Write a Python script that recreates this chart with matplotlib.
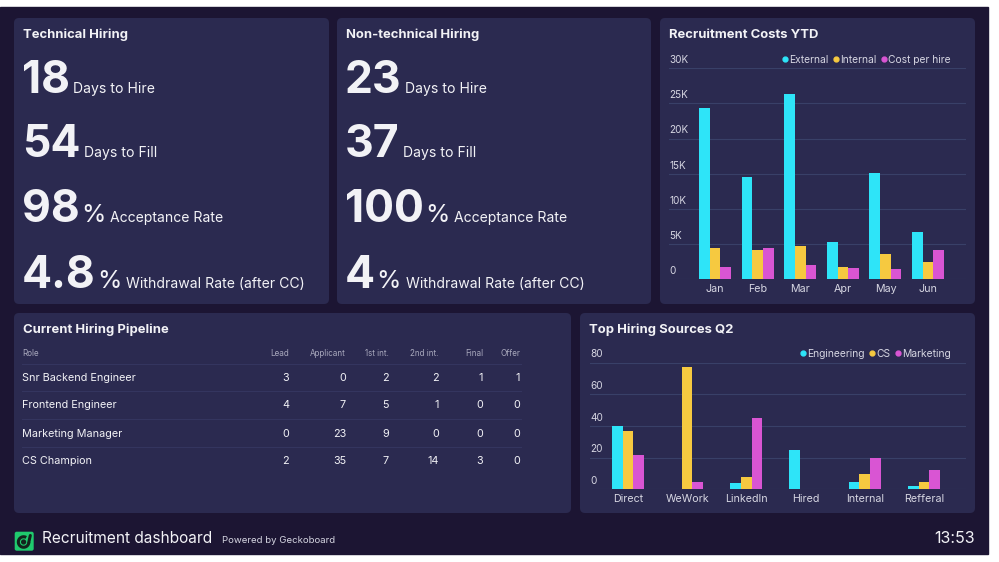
import numpy as np
import matplotlib
matplotlib.use("Agg")
import matplotlib.pyplot as plt
from matplotlib.patches import FancyBboxPatch, Rectangle, Arc, Circle
from matplotlib.lines import Line2D

plt.rcParams['font.family'] = ['Inter', 'DejaVu Sans']

# ---- data ----
stat_labels = ['Days to Hire', 'Days to Fill', 'Acceptance Rate', 'Withdrawal Rate (after CC)']
stat_units = ['', '', '%', '%']
tech_values = ['18', '54', '98', '4.8']
nontech_values = ['23', '37', '100', '4']

months = ['Jan', 'Feb', 'Mar', 'Apr', 'May', 'Jun']
cost_external = [24400, 14500, 26300, 5300, 15100, 6700]
cost_internal = [4400, 4100, 4800, 1700, 3550, 2450]
cost_per_hire = [1800, 4400, 2000, 1600, 1450, 4100]
cost_ticks = [0, 5000, 10000, 15000, 20000, 25000, 30000]
cost_tick_labels = ['0', '5K', '10K', '15K', '20K', '25K', '30K']

sources = ['Direct', 'WeWork', 'LinkedIn', 'Hired', 'Internal', 'Refferal']
src_engineering = [40, 0, 3.8, 24.8, 4.8, 1.9]
src_cs = [36.8, 77, 7.6, 0, 9.7, 4.8]
src_marketing = [21.7, 4.8, 45, 0, 19.8, 12.2]
src_ticks = [0, 20, 40, 60, 80]

table_header = ['Role', 'Lead', 'Applicant', '1st int.', '2nd int.', 'Final', 'Offer']
table_roles = ['Snr Backend Engineer', 'Frontend Engineer', 'Marketing Manager', 'CS Champion']
table_values = [[3, 0, 2, 2, 1, 1],
                [4, 7, 5, 1, 0, 0],
                [0, 23, 9, 0, 0, 0],
                [2, 35, 7, 14, 3, 0]]

# ---- style ----
BG = '#1c1533'
PANEL = '#2b2a50'
GRID = '#394068'
WHITE = '#f2f2f6'
LIGHT = '#d6d6e2'
DIM = '#a9a9bd'
CYAN = '#2ee4f8'
YELLOW = '#f6c940'
MAGENTA = '#d955d3'

W, H = 999, 562
fig = plt.figure(figsize=(W / 100, H / 100), dpi=100, facecolor='white')
bg = fig.add_axes([0, 0, 1, 1])
bg.set_xlim(0, W)
bg.set_ylim(H, 0)
bg.axis('off')
bg.add_patch(Rectangle((0, 7), 988, 547, color=BG, zorder=0))

def panel(x0, y0, x1, y1, title):
    bg.add_patch(FancyBboxPatch((x0, y0), x1 - x0, y1 - y0,
                                boxstyle='round,pad=0,rounding_size=5',
                                fc=PANEL, ec='none', zorder=1))
    bg.text(x0 + 9, y0 + 20, title, color=WHITE, fontsize=9.4,
            fontweight='bold', va='baseline', zorder=3)

panel(14, 18, 329, 304, 'Technical Hiring')
panel(337, 18, 651, 304, 'Non-technical Hiring')
panel(660, 18, 975, 304, 'Recruitment Costs YTD')
panel(14, 313, 571, 513, 'Current Hiring Pipeline')
panel(580, 313, 975, 513, 'Top Hiring Sources Q2')

renderer = fig.canvas.get_renderer()

def right_of(t):
    bb = t.get_window_extent(renderer=renderer)
    return bg.transData.inverted().transform((bb.x1, bb.y0))[0]

def stat_column(x, values):
    baselines = [93.3, 157.3, 221.7, 288.3]
    for val, unit, lab, yb in zip(values, stat_units, stat_labels, baselines):
        t = bg.text(x, yb, val, color=WHITE, fontsize=32, fontweight='bold',
                    va='baseline', zorder=3)
        xe = right_of(t)
        if unit:
            t = bg.text(xe + 1, yb, unit, color=WHITE, fontsize=18,
                        va='baseline', zorder=3)
            xe = right_of(t) + 2
        bg.text(xe + 3, yb, lab, color=WHITE, fontsize=10.1,
                va='baseline', zorder=3)

stat_column(22, tech_values)
stat_column(345, nontech_values)

# ---- table ----
col_right = [289, 346, 389, 439, 483, 520]
bg.text(22, 355.5, table_header[0], color=DIM, fontsize=5.8, va='baseline', zorder=3)
for h, xr in zip(table_header[1:], col_right):
    bg.text(xr, 355.5, h, color=DIM, fontsize=5.8, va='baseline', ha='right', zorder=3)
row_y = [377.8, 405.5, 433.8, 461.2]
sep_y = [364, 391.3, 419.3, 447]
for s in sep_y:
    bg.plot([22, 521], [s, s], color='#34355f', lw=0.8, zorder=2)
for role, vals, yc in zip(table_roles, table_values, row_y):
    bg.text(22, yc, role, color=WHITE, fontsize=7.8, va='center', zorder=3)
    for v, xr in zip(vals, col_right):
        bg.text(xr, yc, str(v), color=WHITE, fontsize=7.8, va='center',
                ha='right', zorder=3)

# ---- footer ----
LOGO_INK = '#13241d'
bg.add_patch(FancyBboxPatch((14.7, 531.7), 19, 19,
                            boxstyle='round,pad=0,rounding_size=2',
                            fc='#1fca6e', ec='none', zorder=3))
bg.add_patch(Arc((23.6, 542.0), 10.5, 10.5, theta1=0, theta2=300,
                 color=LOGO_INK, lw=2.2, zorder=4))
bg.plot([28.85, 30.3], [542.0, 535.5], color=LOGO_INK, lw=2.2,
        solid_capstyle='round', zorder=4)
bg.add_patch(Circle((23.6, 542.0), 1.9, color=LOGO_INK, zorder=4))
t = bg.text(42, 542.7, 'Recruitment dashboard', color=WHITE, fontsize=11.1,
            va='baseline', zorder=3)
bg.text(right_of(t) + 10, 542.7, 'Powered by Geckoboard', color=LIGHT,
        fontsize=6.9, va='baseline', zorder=3)
bg.text(975, 542.7, '13:53', color=WHITE, fontsize=11.5, ha='right',
        va='baseline', zorder=3)

# ---- bar chart helper ----
def px_axes(x0, x1, ytop, ybot):
    return fig.add_axes([x0 / W, 1 - ybot / H, (x1 - x0) / W, (ybot - ytop) / H])

def style_chart(ax, ticks, labels, cats):
    ax.set_facecolor('none')
    for s in ax.spines.values():
        s.set_visible(False)
    for v, lab in zip(ticks, labels):
        ax.axhline(v, color=GRID, lw=0.8, zorder=0)
        ax.annotate(lab, xy=(0, v), xycoords=('axes fraction', 'data'),
                    xytext=(0, 2.3), textcoords='offset points',
                    color=LIGHT, fontsize=7.2, va='bottom', ha='left')
    ax.set_yticks([])
    ax.set_xticks(range(len(cats)))
    ax.set_xticklabels(cats, color=LIGHT, fontsize=7.7)
    ax.tick_params(axis='x', length=0, pad=3.5)

# Recruitment costs
ax1 = px_axes(669, 966, 68.3, 279.3)
x = np.arange(len(months))
bw = 0.25
ax1.bar(x - bw, cost_external, bw, color=CYAN, zorder=2)
ax1.bar(x, cost_internal, bw, color=YELLOW, zorder=2)
ax1.bar(x + bw, cost_per_hire, bw, color=MAGENTA, zorder=2)
ax1.set_xlim(-1.08, 5.89)
ax1.set_ylim(0, 30000)
style_chart(ax1, cost_ticks, cost_tick_labels, months)

def dot_legend(names, colors, xr, yc):
    handles = [Line2D([], [], marker='o', ls='none', color=c, markersize=3.5)
               for c in colors]
    fig.legend(handles, names, loc='center right', ncol=3, frameon=False,
               bbox_to_anchor=(xr / W, 1 - yc / H), handlelength=0.4,
               handletextpad=0.2, columnspacing=0.55, borderpad=0,
               labelcolor=LIGHT, prop={'size': 7.4})

dot_legend(['External', 'Internal', 'Cost per hire'],
           [CYAN, YELLOW, MAGENTA], 956, 60)

# Top hiring sources
ax2 = px_axes(590, 966, 362.6, 489.3)
x = np.arange(len(sources))
bw = 0.182
ax2.bar(x - bw, src_engineering, bw, color=CYAN, zorder=2)
ax2.bar(x, src_cs, bw, color=YELLOW, zorder=2)
ax2.bar(x + bw, src_marketing, bw, color=MAGENTA, zorder=2)
ax2.set_xlim(-0.64, 5.71)
ax2.set_ylim(0, 80)
style_chart(ax2, src_ticks, [str(t) for t in src_ticks], sources)

dot_legend(['Engineering', 'CS', 'Marketing'],
           [CYAN, YELLOW, MAGENTA], 956, 354)

fig.savefig('out.png', dpi=100, facecolor='white')
